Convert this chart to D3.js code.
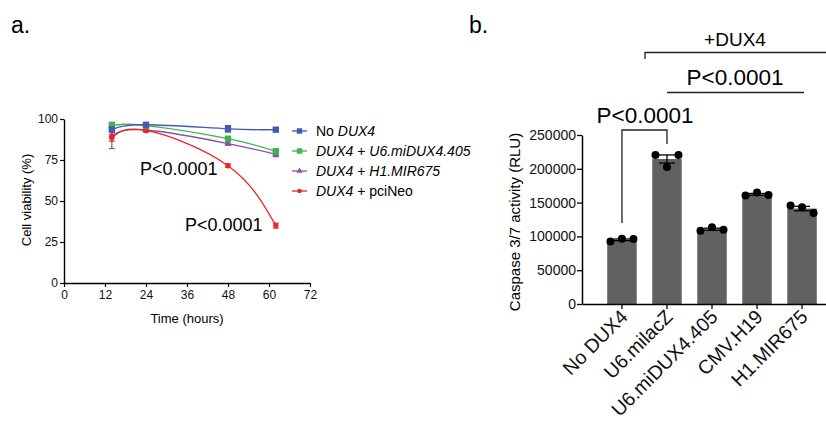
<!DOCTYPE html>
<html>
<head>
<meta charset="utf-8">
<script src="https://cdn.jsdelivr.net/npm/d3@7"></script>
<style>
  body { margin: 0; background: #fff; }
  svg { font-family: "Liberation Sans", Arial, sans-serif; display: block; }
</style>
</head>
<body>
<svg id="fig" width="826" height="428"></svg>
<script>
// panel a: cell viability over time
var hours = [14, 24, 48, 62];
var xTicks = [0, 12, 24, 36, 48, 60, 72];
var yTicksA = [0, 25, 50, 75, 100];
var noDux4 = [93.5, 96.5, 94, 93.5];
var noDux4Err = [1.5, 1, 2, 1];
var miDux4 = [96, 96, 88, 80.3];
var miDux4Err = [1.5, 1, 1, 1.5];
var mir675 = [90, 93.3, 85, 78.5];
var mir675Err = [8, 1, 1, 1.5];
var pciNeo = [88.5, 93, 71.5, 35];
var pciNeoErr = [2, 1, 1, 1.5];

// panel b: caspase activity
var groups = ["No DUX4", "U6.milacZ", "U6.miDUX4.405", "CMV.H19", "H1.MIR675"];
var reps = [
  [92500, 96500, 96000],
  [220500, 202500, 220500],
  [108500, 113700, 109700],
  [160500, 164800, 161400],
  [145600, 143200, 134800]
];
var yTicksB = [0, 50000, 100000, 150000, 200000, 250000];

var svg = d3.select("#fig");

// ---------- panel a ----------
var xA = d3.scaleLinear().domain([0, 72]).range([64, 310]);
var yA = d3.scaleLinear().domain([0, 100]).range([283, 119]);

svg.append("text").attr("x", 11).attr("y", 33).attr("font-size", 23).text("a.");

var axA = svg.append("g").attr("transform", "translate(0,283)")
  .call(d3.axisBottom(xA).tickValues(xTicks).tickSize(4).tickSizeOuter(0));
var ayA = svg.append("g").attr("transform", "translate(64,0)")
  .call(d3.axisLeft(yA).tickValues(yTicksA).tickSize(4).tickSizeOuter(0));
[axA, ayA].forEach(function (g) {
  g.select(".domain").attr("stroke", "#000").attr("stroke-width", 1.4);
  g.selectAll(".tick line").attr("stroke", "#000").attr("stroke-width", 1.2);
  g.selectAll(".tick text").attr("font-size", 12).attr("fill", "#111")
    .attr("font-family", "Liberation Sans, Arial, sans-serif");
});
ayA.selectAll(".tick text").attr("x", -6);

svg.append("text").attr("x", 187).attr("y", 323).attr("text-anchor", "middle")
  .attr("font-size", 13).text("Time (hours)");
svg.append("text").attr("transform", "translate(31,200) rotate(-90)")
  .attr("text-anchor", "middle").attr("font-size", 13).text("Cell viability (%)");

var series = [
  { vals: mir675, err: mir675Err, color: "#8d4fa6", shape: d3.symbolTriangle, size: 22 },
  { vals: pciNeo, err: pciNeoErr, color: "#e8262b", shape: d3.symbolCircle, size: 22 },
  { vals: miDux4, err: miDux4Err, color: "#3cb54a", shape: d3.symbolSquare, size: 40 },
  { vals: noDux4, err: noDux4Err, color: "#4559ae", shape: d3.symbolSquare, size: 40 }
];

var line = d3.line()
  .x(function (d, i) { return xA(hours[i]); })
  .y(function (d) { return yA(d); })
  .curve(d3.curveNatural);

series.forEach(function (s) {
  var g = svg.append("g");
  g.append("path").attr("d", line(s.vals)).attr("fill", "none")
    .attr("stroke", s.color).attr("stroke-width", 1.3);
  s.vals.forEach(function (v, i) {
    var cx = xA(hours[i]);
    g.append("line").attr("x1", cx).attr("x2", cx)
      .attr("y1", yA(v - s.err[i])).attr("y2", yA(v + s.err[i]))
      .attr("stroke", s.color).attr("stroke-width", 1.2);
    [v - s.err[i], v + s.err[i]].forEach(function (e) {
      g.append("line").attr("x1", cx - 3).attr("x2", cx + 3)
        .attr("y1", yA(e)).attr("y2", yA(e))
        .attr("stroke", s.color).attr("stroke-width", 1.2);
    });
    g.append("path").attr("d", d3.symbol().type(s.shape).size(s.size)())
      .attr("transform", "translate(" + cx + "," + yA(v) + ")")
      .attr("fill", s.color);
  });
});

svg.append("text").attr("x", 140).attr("y", 175).attr("font-size", 18).text("P<0.0001");
svg.append("text").attr("x", 185).attr("y", 231).attr("font-size", 18).text("P<0.0001");

// legend
var legend = [
  { color: "#4559ae", shape: d3.symbolSquare, size: 30, parts: [["No ", false], ["DUX4", true]] },
  { color: "#3cb54a", shape: d3.symbolSquare, size: 30, parts: [["DUX4", true], [" + ", false], ["U6.miDUX4.405", true]] },
  { color: "#8d4fa6", shape: d3.symbolTriangle, size: 16, parts: [["DUX4", true], [" + ", false], ["H1.MIR675", true]] },
  { color: "#e8262b", shape: d3.symbolCircle, size: 16, parts: [["DUX4", true], [" + pciNeo", false]] }
];
legend.forEach(function (d, i) {
  var ly = 131 + i * 20;
  svg.append("line").attr("x1", 292).attr("x2", 307).attr("y1", ly).attr("y2", ly)
    .attr("stroke", d.color).attr("stroke-width", 1.3);
  svg.append("path").attr("d", d3.symbol().type(d.shape).size(d.size)())
    .attr("transform", "translate(299.5," + ly + ")").attr("fill", d.color);
  var t = svg.append("text").attr("x", 316).attr("y", ly + 5).attr("font-size", 14);
  d.parts.forEach(function (p) {
    t.append("tspan").attr("font-style", p[1] ? "italic" : "normal").text(p[0]);
  });
});

// ---------- panel b ----------
var xB = d3.scaleBand().domain(groups).range([582, 842]).paddingInner(0.345).paddingOuter(0.56);
var yB = d3.scaleLinear().domain([0, 250000]).range([304, 135]);

svg.append("text").attr("x", 469).attr("y", 33).attr("font-size", 23).text("b.");

var barColor = "#606160";
groups.forEach(function (gname, i) {
  var m = d3.mean(reps[i]);
  svg.append("rect").attr("x", xB(gname)).attr("width", xB.bandwidth())
    .attr("y", yB(m)).attr("height", yB(0) - yB(m)).attr("fill", barColor);
});

var axB = svg.append("g").attr("transform", "translate(0,304)")
  .call(d3.axisBottom(xB).tickSize(5).tickSizeOuter(0));
var ayB = svg.append("g").attr("transform", "translate(582,0)")
  .call(d3.axisLeft(yB).tickValues(yTicksB).tickFormat(d3.format("d")).tickSize(5).tickSizeOuter(0));
[axB, ayB].forEach(function (g) {
  g.select(".domain").attr("stroke", "#000").attr("stroke-width", 1.5);
  g.selectAll(".tick line").attr("stroke", "#000").attr("stroke-width", 1.3);
  g.selectAll(".tick text").attr("fill", "#111")
    .attr("font-family", "Liberation Sans, Arial, sans-serif");
});
ayB.selectAll(".tick text").attr("font-size", 14).attr("x", -6);
axB.selectAll(".tick text").attr("font-size", 19.5)
  .attr("text-anchor", "end").attr("dy", 0).attr("y", 0)
  .attr("transform", "translate(7,14) rotate(-45)");

svg.append("text").attr("transform", "translate(520,222) rotate(-90)")
  .attr("text-anchor", "middle").attr("font-size", 15).text("Caspase 3/7 activity (RLU)");

// error bars + dots
groups.forEach(function (gname, i) {
  var cx = xB(gname) + xB.bandwidth() / 2;
  var m = d3.mean(reps[i]);
  var sem = d3.deviation(reps[i]) / Math.sqrt(reps[i].length);
  svg.append("line").attr("x1", cx).attr("x2", cx).attr("y1", yB(m - sem)).attr("y2", yB(m + sem))
    .attr("stroke", "#000").attr("stroke-width", 1.3);
  [m - sem, m + sem].forEach(function (e) {
    svg.append("line").attr("x1", cx - 8).attr("x2", cx + 8).attr("y1", yB(e)).attr("y2", yB(e))
      .attr("stroke", "#000").attr("stroke-width", 1.3);
  });
  reps[i].forEach(function (v, j) {
    svg.append("circle").attr("cx", cx + (j - 1) * 11.5).attr("cy", yB(v)).attr("r", 4)
      .attr("fill", "#000");
  });
});

// significance brackets
var c0 = xB(groups[0]) + xB.bandwidth() / 2;
var c1 = xB(groups[1]) + xB.bandwidth() / 2;
var c4 = xB(groups[4]) + xB.bandwidth() / 2;
svg.append("path").attr("d", "M" + c0 + ",223V130H" + c1 + "V144")
  .attr("fill", "none").attr("stroke", "#222").attr("stroke-width", 1.3);
svg.append("text").attr("x", 645).attr("y", 123).attr("text-anchor", "middle")
  .attr("font-size", 22.5).text("P<0.0001");

svg.append("line").attr("x1", c1).attr("x2", c4 + 2).attr("y1", 92.5).attr("y2", 92.5)
  .attr("stroke", "#222").attr("stroke-width", 1.3);
svg.append("text").attr("x", 735).attr("y", 85).attr("text-anchor", "middle")
  .attr("font-size", 22.5).text("P<0.0001");

svg.append("path").attr("d", "M645,59V52.5H826")
  .attr("fill", "none").attr("stroke", "#222").attr("stroke-width", 1.3);
svg.append("text").attr("x", 735).attr("y", 46).attr("text-anchor", "middle")
  .attr("font-size", 19).text("+DUX4");
</script>
</body>
</html>
